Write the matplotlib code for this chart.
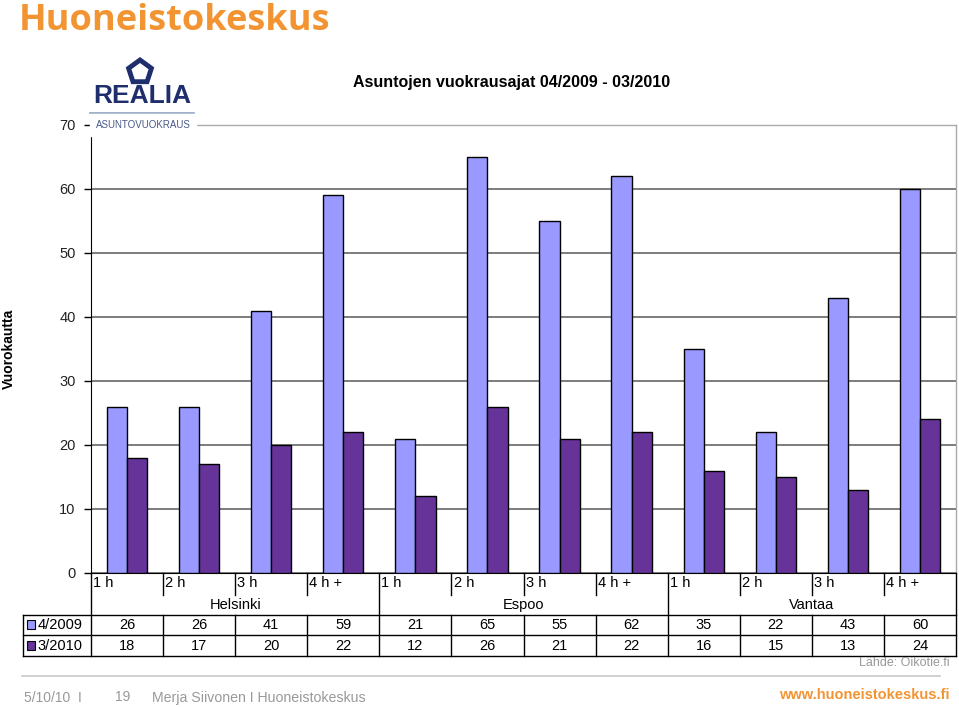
import matplotlib
matplotlib.use("Agg")
import matplotlib.pyplot as plt
import numpy as np
from matplotlib.patches import Polygon, Rectangle

cities = ["Helsinki", "Espoo", "Vantaa"]
durations = ["1 h", "2 h", "3 h", "4 h +"]
series_names = ["4/2009", "3/2010"]
values_2009 = [26, 26, 41, 59, 21, 65, 55, 62, 35, 22, 43, 60]
values_2010 = [18, 17, 20, 22, 12, 26, 21, 22, 16, 15, 13, 24]
yticks = [0, 10, 20, 30, 40, 50, 60, 70]

c_blue = "#9999FF"
c_purple = "#663399"
orange = "#F39433"

W, H = 959, 707
fig = plt.figure(figsize=(W / 100, H / 100), dpi=100)
plt.rcParams['font.family'] = ['Liberation Sans', 'DejaVu Sans']

def fx(px):
    return px / W

def fy(py):
    return 1 - py / H

# Main axes
ax_l, ax_r, ax_t, ax_b = 91, 956, 125, 573
ax = fig.add_axes([fx(ax_l), fy(ax_b), (ax_r - ax_l) / W, (ax_b - ax_t) / H])
n = len(values_2009)
x = np.arange(n)
bw = 0.28
ax.bar(x - bw / 2, values_2009, bw, color=c_blue, edgecolor="black", linewidth=1, zorder=3)
ax.bar(x + bw / 2, values_2010, bw, color=c_purple, edgecolor="black", linewidth=1, zorder=3)
ax.set_xlim(-0.5, n - 0.5)
ax.set_ylim(0, 70)
ax.set_yticks(yticks)
ax.set_yticklabels([str(v) for v in yticks], fontsize=10.5, color="#222222")
ax.set_xticks([])
ax.yaxis.grid(True, color="#666666", linewidth=1.2, zorder=0)
ax.set_axisbelow(True)
for s in ["top", "right"]:
    ax.spines[s].set_color("#aaaaaa")
    ax.spines[s].set_linewidth(1)
ax.spines["left"].set_color("black")
ax.spines["bottom"].set_color("black")
ax.tick_params(axis="y", length=5, width=1, direction="out", pad=6)

# Table axes spanning from x=23 to 956
unit = (ax_r - ax_l) / n
tl = 23
x0 = -0.5 - (ax_l - tl) / unit
tab_t, tab_b = 573, 656
tab = fig.add_axes([fx(tl), fy(tab_b), (ax_r - tl) / W, (tab_b - tab_t) / H])
tab.set_xlim(x0, n - 0.5)
tab.set_ylim(4, 0)
tab.axis("off")
lw = 1.0
lc = "black"
for i in range(n + 1):
    b = i - 0.5
    if i % 4 == 0:
        tab.plot([b, b], [0, 4], color=lc, lw=lw, clip_on=False)
    else:
        tab.plot([b, b], [0, 1.05], color=lc, lw=lw, clip_on=False)
        tab.plot([b, b], [2, 4], color=lc, lw=lw, clip_on=False)
tab.plot([x0, x0], [2, 4], color=lc, lw=lw, clip_on=False)
for yy in [2, 3, 4]:
    tab.plot([x0, n - 0.5], [yy, yy], color=lc, lw=lw, clip_on=False)
for i in range(n):
    tab.text(i - 0.47, 0.5, durations[i % 4], fontsize=10.5, ha="left", va="center")
    tab.text(i, 2.5, str(values_2009[i]), fontsize=10.5, ha="center", va="center")
    tab.text(i, 3.5, str(values_2010[i]), fontsize=10.5, ha="center", va="center")
for j, c in enumerate(cities):
    tab.text(4 * j + 1.5, 1.55, c, fontsize=10.5, ha="center", va="center")
for k, (nm, col) in enumerate(zip(series_names, [c_blue, c_purple])):
    yk = 2.5 + k
    tab.add_patch(Rectangle((x0 + 0.06, yk - 0.22), 0.11, 0.44, facecolor=col,
                            edgecolor="black", lw=0.8, clip_on=False))
    tab.text(x0 + 0.2, yk, nm, fontsize=10.5, ha="left", va="center")

# Titles
fig.text(fx(512), fy(82), "Asuntojen vuokrausajat 04/2009 - 03/2010", fontsize=11.5,
         fontweight="bold", ha="center", va="center")
fig.text(fx(9), fy(349), "Vuorokautta", fontsize=10, fontweight="bold", rotation=90,
         ha="center", va="center", family=["Liberation Sans Narrow", "Liberation Sans", "DejaVu Sans"])
fig.text(fx(19), fy(30), "Huoneistokeskus", fontsize=26, fontweight="bold",
         color=orange, ha="left", va="baseline", family=["Open Sans", "DejaVu Sans"])

# Logo
navy = "#1F2F6E"
ang = np.pi / 2 + np.arange(5) * 2 * np.pi / 5
cx, cy, r = 140, 72, 12
pts = [(fx(cx + r * np.cos(a)), fy(cy - r * np.sin(a))) for a in ang]
fig.patches.append(Polygon(pts, closed=True, transform=fig.transFigure,
                           facecolor="none", edgecolor=navy, lw=3.5))
fig.text(fx(142), fy(96), "REALIA", fontsize=19, fontweight="bold", color=navy,
         ha="center", va="center")
fig.add_artist(plt.Line2D([fx(90), fx(194)], [fy(113), fy(113)], color="#8FA3C0", lw=1.2,
                          transform=fig.transFigure))
fig.text(fx(143), fy(125), "ASUNTOVUOKRAUS", fontsize=7, color="#4A5A8A",
         ha="center", va="center", backgroundcolor="white")

# Footer
fig.text(fx(950), fy(663), "Lähde: Oikotie.fi", fontsize=9, color="#999999",
         ha="right", va="center")
fig.add_artist(plt.Line2D([fx(22), fx(940)], [fy(676), fy(676)], color="#c8c8c8", lw=1.2,
                          transform=fig.transFigure))
fig.text(fx(24), fy(698), "5/10/10  I", fontsize=10, color="#999999", ha="left", va="center")
fig.text(fx(115), fy(697), "19", fontsize=10, color="#999999", ha="left", va="center")
fig.text(fx(152), fy(698), "Merja Siivonen I Huoneistokeskus", fontsize=10.2, color="#999999",
         ha="left", va="center")
fig.text(fx(950), fy(695), "www.huoneistokeskus.fi", fontsize=10.5, fontweight="bold",
         color=orange, ha="right", va="center")

fig.savefig("out.png", dpi=100)
